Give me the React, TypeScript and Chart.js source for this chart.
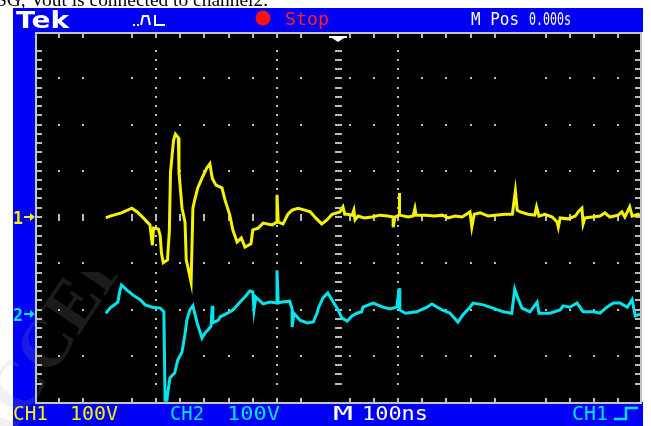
import React, { useEffect, useRef } from "react";
import { Chart, registerables } from "chart.js";

Chart.register(...registerables);

// ---------- data (time in ns, amplitude in screen divisions) ----------
const timeRange = [-500, 500];
const divRange = [-4, 4];

const ch1Trace: [number, number][] = [
  [-383, -0.02], [-376, 0.02], [-357, 0.09], [-340, 0.19], [-331, 0.11], [-321, -0.02],
  [-310, -0.17], [-306, -0.61], [-304, -0.24], [-296, -0.26], [-293, -0.41], [-291, -0.78],
  [-288, -0.99], [-281, -0.93], [-278, -0.32], [-276, 0.97], [-271, 1.66], [-268, 1.79],
  [-263, 1.71], [-262, 0.97], [-257, 0.19], [-252, -0.11], [-250, -0.93], [-247, -1.1],
  [-242, -1.41], [-239, 0.19], [-236, 0.37], [-231, 0.63], [-224, 0.84], [-216, 1.06],
  [-211, 1.15], [-207, 0.84], [-201, 0.69], [-191, 0.63], [-186, 0.37], [-178, 0.04],
  [-173, -0.28], [-166, -0.54], [-159, -0.45], [-153, -0.65], [-143, -0.58], [-140, -0.28],
  [-131, -0.24], [-123, -0.13], [-108, -0.17], [-100, -0.11], [-100, 0.48], [-98, -0.11],
  [-90, -0.15], [-82, 0.06], [-75, 0.15], [-65, 0.19], [-54, 0.15], [-45, 0.11],
  [-36, -0.02], [-26, -0.15], [-17, -0.06], [-9, 0.06], [4, 0.11], [9, 0.22],
  [12, 0.06], [17, 0.06], [24, 0.04], [27, 0.15], [29, -0.06], [34, 0.02],
  [44, -0.02], [57, 0], [70, 0.04], [83, 0.02], [92, 0], [92, -0.22],
  [95, 0], [102, 0.04], [102, 0.52], [103, 0.04], [117, 0], [125, 0.02],
  [128, 0.19], [130, 0.04], [145, 0.04], [161, 0.02], [173, 0.04], [183, -0.02],
  [194, 0.02], [206, 0], [219, 0.11], [222, -0.22], [226, 0.06], [236, 0.09],
  [249, 0.02], [260, 0.04], [277, 0.06], [289, 0.06], [294, 0.56], [297, 0.15],
  [302, 0.11], [315, 0.06], [326, 0.04], [329, 0.22], [333, 0.02], [343, 0.06],
  [355, 0], [363, -0.11], [365, -0.22], [368, -0.02], [381, -0.04], [393, 0.02],
  [399, 0.13], [404, 0.19], [406, -0.15], [409, -0.02], [421, 0], [434, 0.02],
  [442, 0.09], [450, 0], [464, 0.04], [470, 0.11], [475, 0], [483, 0.22],
  [487, 0.02], [497, 0.06], [500, 0.02],
];

const ch2Trace: [number, number][] = [
  [-383, -2.08], [-376, -1.97], [-363, -1.84], [-360, -1.62], [-357, -1.47], [-348, -1.58],
  [-338, -1.69], [-326, -1.79], [-318, -1.9], [-306, -1.95], [-293, -1.97], [-287, -2.05],
  [-285, -3.96], [-282, -3.96], [-281, -3.85], [-277, -3.48], [-269, -3.37], [-264, -3.09],
  [-257, -2.92], [-252, -2.53], [-249, -2.23], [-244, -2.01], [-239, -1.92], [-232, -2.29],
  [-224, -2.62], [-219, -2.51], [-214, -2.44], [-209, -2.36], [-207, -1.92], [-206, -2.29],
  [-197, -2.23], [-194, -2.16], [-182, -2.08], [-173, -2.01], [-161, -1.84], [-153, -1.73],
  [-145, -1.6], [-140, -1.62], [-138, -2.01], [-135, -1.73], [-123, -1.88], [-112, -1.84],
  [-100, -1.86], [-100, -1.15], [-98, -1.86], [-92, -1.84], [-79, -1.82], [-75, -1.99],
  [-75, -2.38], [-72, -2.08], [-62, -2.23], [-50, -2.29], [-40, -2.27], [-34, -2.08],
  [-31, -1.95], [-24, -1.75], [-16, -1.64], [-7, -1.84], [1, -2.01], [7, -2.18],
  [16, -2.25], [24, -2.14], [32, -2.08], [40, -2.05], [42, -1.95], [59, -1.86],
  [75, -1.95], [87, -1.99], [98, -1.95], [102, -1.54], [103, -2.01], [112, -2.08],
  [131, -2.05], [148, -1.95], [156, -1.88], [173, -2.01], [186, -2.08], [199, -2.27],
  [207, -2.12], [219, -1.95], [224, -1.86], [241, -1.9], [257, -1.97], [274, -2.05],
  [288, -2.08], [293, -1.56], [298, -1.75], [305, -1.97], [318, -2.05], [330, -1.84],
  [333, -2.08], [351, -2.08], [368, -2.01], [373, -1.92], [384, -1.95], [396, -1.86],
  [406, -2.05], [423, -2.05], [434, -2.08], [445, -1.95], [456, -1.86], [467, -1.86],
  [479, -1.95], [487, -1.79], [492, -2.14], [500, -2.1],
];

// graticule marks (as they survive in the picture)
const graticuleTimes = [
  -460, -420, -340, -300, -260, -220, -180, -140, -100, -60,
  20, 60, 100, 140, 180, 220, 260, 344, 384, 424, 464,
];
const graticuleDivs = [
  3.6, 3.4, 3.2, 3.0, 2.8, 2.6, 2.4, 2.2, 2.0, 1.8, 1.6, 1.4, 1.2, 1.0, 0.8, 0.6, 0.4, 0.2, 0,
  -0.2, -0.4, -0.6, -0.8, -1.0, -1.2, -1.4, -1.6, -1.8, -2.0, -2.2, -2.4, -2.6, -2.8, -3.0,
  -3.2, -3.4, -3.6,
];
const graticuleRows = [3, 2, 1, -1, -2, -3];
const graticuleColumns = [-300, -100, 100];
const ch1Ground = 0;
const ch2Ground = -2.1;

// text
const headerText = "SG, Vout is connected to channel2.";
const watermarkText = "ACCEPTED";
const brandLabel = "Tek";
const runLabel = "Stop";
const positionLabels = ["M Pos", "0.000s"];
const ch1Labels = ["CH1", "100V"];
const ch2Labels = ["CH2", "100V"];
const timeLabels = ["M", "100ns"];
const triggerLabel = "CH1";
const channelMarks = ["1", "2"];

const W = 651;
const H = 426;
const BLUE = "#0000f4";
const YELLOW = "#f4f400";
const CYAN = "#00e4ec";
const GRID = "#bcbcbc";

function fitText(
  ctx: CanvasRenderingContext2D,
  text: string,
  x: number,
  y: number,
  width: number,
  font: string,
  color: string
) {
  ctx.save();
  ctx.font = font;
  ctx.fillStyle = color;
  ctx.textAlign = "left";
  ctx.textBaseline = "alphabetic";
  const w = ctx.measureText(text).width || 1;
  ctx.translate(x, y);
  ctx.scale(width / w, 1);
  ctx.fillText(text, 0, 0);
  ctx.restore();
}

const scopePlugin = {
  id: "scopeFace",
  beforeDraw(chart: any) {
    const ctx: CanvasRenderingContext2D = chart.ctx;
    const a = chart.chartArea;
    ctx.save();
    ctx.fillStyle = "#ffffff";
    ctx.fillRect(0, 0, W, H);
    fitText(ctx, headerText, -4, 6, 272, "19px 'Liberation Serif'", "#000");
    ctx.fillStyle = BLUE;
    ctx.fillRect(13, 8, 630, a.top - 8);
    ctx.fillRect(13, 8, a.left - 13, H - 8);
    ctx.fillRect(13, a.bottom, 630, H - a.bottom);
    ctx.fillStyle = "#c4c4c4";
    ctx.fillRect(a.left, a.top, a.right - a.left + 2, a.bottom - a.top + 2);
    ctx.fillStyle = "#000";
    ctx.fillRect(a.left + 2, a.top + 2, a.right - a.left - 2, a.bottom - a.top - 2);
    ctx.restore();
  },
  beforeDatasetsDraw(chart: any) {
    const ctx: CanvasRenderingContext2D = chart.ctx;
    const a = chart.chartArea;
    const xs = chart.scales.x;
    const ys = chart.scales.y;
    const px = (t: number) => Math.round(xs.getPixelForValue(t));
    const py = (d: number) => Math.round(ys.getPixelForValue(d));
    ctx.save();
    ctx.fillStyle = GRID;
    for (const r of graticuleRows) {
      for (const t of graticuleTimes) ctx.fillRect(px(t) - 1, py(r) - 1, 2, 2);
    }
    for (const t of graticuleTimes) ctx.fillRect(px(t) - 1, py(0) - 3, 2, 7);
    for (const c of graticuleColumns) {
      for (const d of graticuleDivs) ctx.fillRect(px(c) - 1, py(d) - 1, 2, 2);
    }
    for (const d of graticuleDivs) ctx.fillRect(px(0) - 3, py(d) - 1, 7, 2);
    for (const t of graticuleTimes) {
      ctx.fillRect(px(t) - 1, a.top + 2, 2, 4);
      ctx.fillRect(px(t) - 1, a.bottom - 4, 2, 4);
    }
    for (const d of graticuleDivs) {
      ctx.fillRect(a.left + 2, py(d) - 1, 5, 2);
      ctx.fillRect(a.right - 5, py(d) - 1, 5, 2);
    }
    ctx.fillStyle = "#ffffff";
    const cx = px(0);
    ctx.fillRect(cx - 9, a.top + 4, 18, 2);
    ctx.beginPath();
    ctx.moveTo(cx - 6, a.top + 6);
    ctx.lineTo(cx + 6, a.top + 6);
    ctx.lineTo(cx, a.top + 10);
    ctx.closePath();
    ctx.fill();
    ctx.restore();
  },
  afterDraw(chart: any) {
    const ctx: CanvasRenderingContext2D = chart.ctx;
    const ys = chart.scales.y;
    const mono = "18px 'DejaVu Sans Mono'";
    const mono2 = "19px 'DejaVu Sans Mono'";
    ctx.save();
    // top bar
    fitText(ctx, brandLabel, 16, 28, 53, "bold 23px 'DejaVu Sans'", "#ffffff");
    ctx.strokeStyle = "#ffffff";
    ctx.lineWidth = 2;
    ctx.fillStyle = "#ffffff";
    ctx.fillRect(133, 24, 2, 2);
    ctx.fillRect(137, 24, 2, 2);
    ctx.beginPath();
    ctx.moveTo(141, 25);
    ctx.lineTo(143, 16);
    ctx.lineTo(148, 16);
    ctx.lineTo(150, 25);
    ctx.moveTo(155, 15);
    ctx.lineTo(155, 25);
    ctx.lineTo(165, 25);
    ctx.stroke();
    ctx.fillStyle = "#ff1010";
    ctx.beginPath();
    ctx.arc(263, 18, 7.5, 0, Math.PI * 2);
    ctx.fill();
    fitText(ctx, runLabel, 285, 25, 44, mono, "#ff2020");
    fitText(ctx, positionLabels[0], 471, 25, 48, mono, "#ffffff");
    fitText(ctx, positionLabels[1], 529, 25, 42, mono, "#ffffff");
    // bottom bar
    fitText(ctx, ch1Labels[0], 13, 420, 35, mono2, YELLOW);
    fitText(ctx, ch1Labels[1], 70, 420, 48, mono2, YELLOW);
    fitText(ctx, ch2Labels[0], 170, 420, 34, mono2, CYAN);
    fitText(ctx, ch2Labels[1], 227, 420, 53, mono2, CYAN);
    fitText(ctx, timeLabels[0], 333, 420, 20, mono2, "#ffffff");
    fitText(ctx, timeLabels[1], 362, 420, 66, mono2, "#ffffff");
    fitText(ctx, triggerLabel, 572, 420, 36, mono2, CYAN);
    ctx.strokeStyle = CYAN;
    ctx.lineWidth = 2.5;
    ctx.beginPath();
    ctx.moveTo(614, 419);
    ctx.lineTo(626, 419);
    ctx.lineTo(626, 408);
    ctx.lineTo(638, 408);
    ctx.stroke();
    // channel ground markers
    const marks = [
      { label: channelMarks[0], d: ch1Ground, color: YELLOW },
      { label: channelMarks[1], d: ch2Ground, color: CYAN },
    ];
    for (const m of marks) {
      const y = Math.round(ys.getPixelForValue(m.d));
      fitText(ctx, m.label, 13, y + 7, 10, "bold 18px 'DejaVu Sans Mono'", m.color);
      ctx.fillStyle = m.color;
      ctx.fillRect(24, y - 1, 8, 2);
      ctx.beginPath();
      ctx.moveTo(30, y - 4);
      ctx.lineTo(35, y);
      ctx.lineTo(30, y + 4);
      ctx.closePath();
      ctx.fill();
    }
    // faint watermark, only its corner fragment is visible
    ctx.save();
    ctx.beginPath();
    ctx.rect(0, 272, 118, H - 272);
    ctx.clip();
    ctx.translate(-6, 462);
    ctx.rotate(-Math.PI / 3.2);
    ctx.font = "bold 70px 'Liberation Serif'";
    ctx.fillStyle = "rgba(170,170,170,0.16)";
    ctx.fillText(watermarkText, 0, 0);
    ctx.restore();
    ctx.restore();
  },
};

export default function App() {
  const canvasRef = useRef<HTMLCanvasElement | null>(null);

  useEffect(() => {
    const canvas = canvasRef.current;
    if (!canvas) return;
    const chart = new Chart(canvas, {
      type: "line",
      data: {
        datasets: [
          {
            label: "CH1",
            data: ch1Trace.map(([x, y]) => ({ x, y })),
            borderColor: YELLOW,
            borderWidth: 3,
            pointRadius: 0,
            tension: 0,
            fill: false,
          },
          {
            label: "CH2",
            data: ch2Trace.map(([x, y]) => ({ x, y })),
            borderColor: CYAN,
            borderWidth: 3,
            pointRadius: 0,
            tension: 0,
            fill: false,
          },
        ],
      },
      options: {
        animation: false,
        responsive: false,
        devicePixelRatio: 1,
        layout: { padding: { left: 35, top: 32, right: 11, bottom: 24 } },
        plugins: {
          legend: { display: false },
          tooltip: { enabled: false },
          title: { display: false },
        },
        events: [],
        scales: {
          x: { type: "linear", min: timeRange[0], max: timeRange[1], display: false },
          y: { type: "linear", min: divRange[0], max: divRange[1], display: false },
        },
      },
      plugins: [scopePlugin],
    } as any);
    return () => chart.destroy();
  }, []);

  return (
    <div style={{ position: "fixed", left: 0, top: 0, width: W, height: H, background: "#fff" }}>
      <canvas ref={canvasRef} width={W} height={H} style={{ display: "block", width: W, height: H }} />
    </div>
  );
}
